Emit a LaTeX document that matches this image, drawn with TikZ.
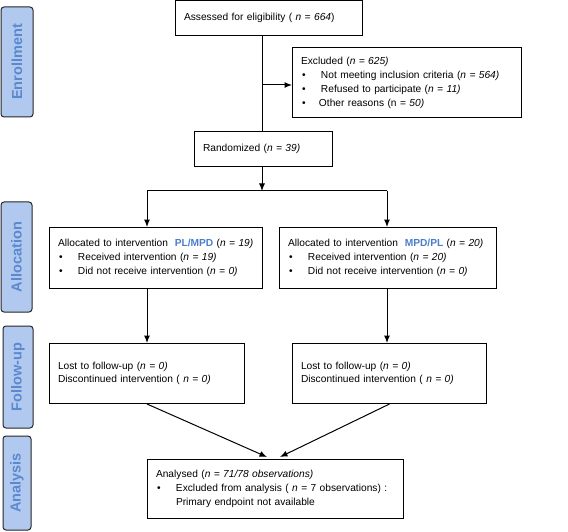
\documentclass[tikz,border=0pt]{standalone}
\usepackage{fontspec}
\setmainfont{Liberation Sans}
\usetikzlibrary{arrows.meta}
\definecolor{sidefill}{HTML}{B1C9EE}
\definecolor{sidetext}{HTML}{5A89CF}
\definecolor{armblue}{HTML}{4A7ECB}
\newcommand{\bul}{\makebox[20pt][l]{\hspace{1pt}•}}
\newcommand{\arm}[1]{\textcolor{armblue}{\textbf{#1}}}
\tikzset{
  box/.style={draw, line width=1pt, anchor=north west, inner xsep=8.5pt, inner ysep=0pt,
    align=left, font=\fontsize{10.2}{14}\selectfont},
  side/.style={draw=black!85, line width=1pt, fill=sidefill, rounded corners=3pt, rotate=90,
    inner sep=0pt, text=sidetext, font=\fontsize{14.5}{16}\selectfont\bfseries},
  arr/.style={line width=1pt, -{Latex[length=7.5pt,width=6pt]}},
  ln/.style={line width=1pt}
}
\begin{document}
\begin{tikzpicture}[x=1pt,y=-1pt]
\useasboundingbox (0,0) rectangle (568,532);
% side labels
\node[side, minimum width=110pt, minimum height=32pt] (sEnr) at (17,62) {Enrollment};
\node[side, minimum width=110pt, minimum height=31pt] (sAll) at (16.5,257) {Allocation};
\node[side, minimum width=102pt, minimum height=30pt] (sFol) at (18,377) {Follow-up};
\node[side, minimum width=94pt, minimum height=28pt] (sAna) at (17,483) {Analysis};
% boxes
\node[box, text width=170pt, minimum height=35pt] (assess) at (175,0) {Assessed for eligibility ( \textit{n = 664})};
\node[box, text width=212pt, minimum height=70pt] (excl) at (292,47) {Excluded (\textit{n = 625)}\\
\bul Not meeting inclusion criteria (\textit{n = 564)}\\
\bul Refused to participate (\textit{n = 11)}\\
\makebox[18pt][l]{\hspace{1pt}•}Other reasons (n = \textit{50)}};
\node[box, text width=121pt, minimum height=35pt] (rand) at (194,131) {Randomized (\textit{n = 39)}};
\node[box, text width=196pt, minimum height=61pt] (allocL) at (49,227) {Allocated to intervention \ \arm{PL/MPD} (\textit{n = 19)}\\
\bul Received intervention (\textit{n = 19)}\\
\bul Did not receive intervention (\textit{n = 0)}};
\node[box, text width=200pt, minimum height=61pt] (allocR) at (279,227) {Allocated to intervention \ \arm{MPD/PL} (\textit{n = 20)}\\
\bul Received intervention (\textit{n = 20)}\\
\bul Did not receive intervention (\textit{n = 0)}};
\node[box, font=\fontsize{10.2}{13}\selectfont, text width=178pt, minimum height=60pt] (folL) at (49,343) {Lost to follow-up (\textit{n = 0)}\\
Discontinued intervention ( \textit{n = 0)}};
\node[box, font=\fontsize{10.2}{13}\selectfont, text width=177pt, minimum height=60pt] (folR) at (292,343) {Lost to follow-up (\textit{n = 0)}\\
Discontinued intervention ( \textit{n = 0)}};
\node[box, text width=239pt, minimum height=59pt] (ana) at (147,459) {Analysed (\textit{n = 71/78 observations)}\\
\bul Excluded from analysis ( \textit{n} = 7 observations) :\\
\hspace*{20pt}Primary endpoint not available};
% coordinates
\coordinate (spine) at (262,0);
\coordinate (exj) at (262,85);
\coordinate (br) at (262,191);
\coordinate (bl) at (147,191);
\coordinate (brr) at (387,191);
\coordinate (aL) at (267,457);
\coordinate (aR) at (280,457);
% connectors
\draw[ln] (assess.south -| spine) -- (rand.north -| spine);
\draw[arr] (exj) -- (exj -| excl.west);
\draw[arr] (rand.south -| spine) -- (br);
\draw[ln] (bl) -- (brr);
\draw[arr] (bl) -- (bl |- allocL.north);
\draw[arr] (brr) -- (brr |- allocR.north);
\draw[arr] (allocL.south -| bl) -- (folL.north -| bl);
\draw[arr] (allocR.south -| brr) -- (folR.north -| brr);
\draw[arr] (folL.south) -- (aL);
\draw[arr] (folR.south) -- (aR);
\end{tikzpicture}
\end{document}
